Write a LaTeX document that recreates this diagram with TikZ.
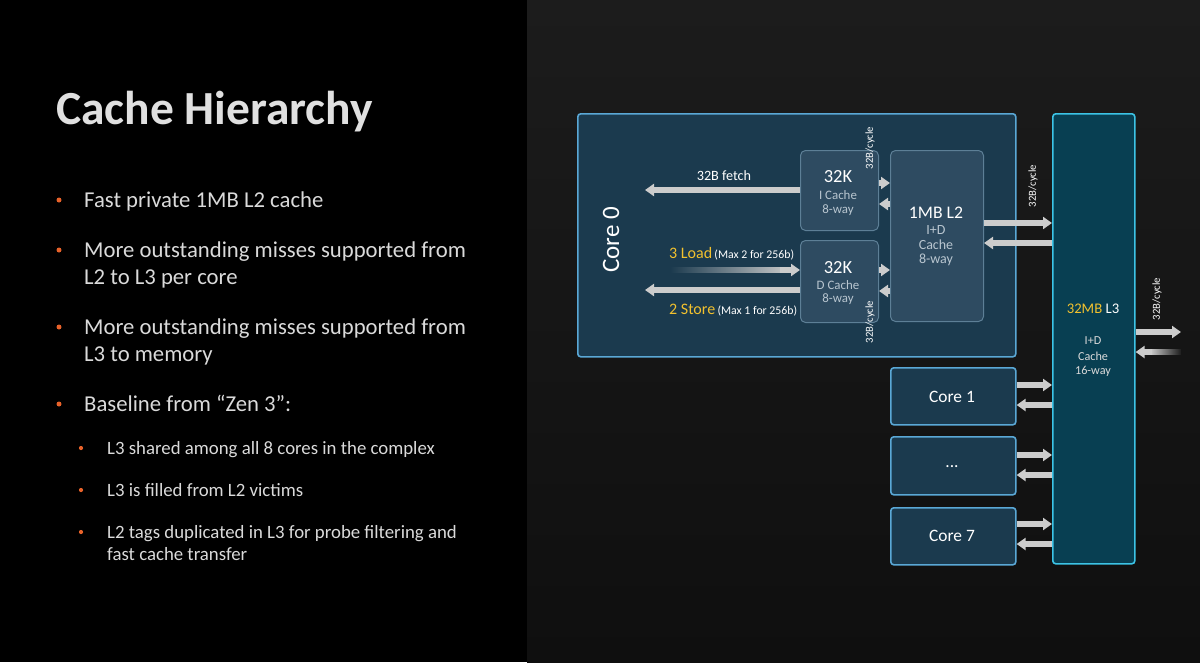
\documentclass[tikz,border=0pt]{standalone}
\usepackage{fontspec}
\setmainfont{Carlito}
\usetikzlibrary{arrows.meta,calc}
\definecolor{bgR}{HTML}{1C1C1C}
\definecolor{bgRb}{HTML}{0F0F0F}
\definecolor{coreFill}{HTML}{1B3A4E}
\definecolor{coreEdge}{HTML}{5AA8D6}
\definecolor{subFill}{HTML}{2E4B61}
\definecolor{subEdge}{HTML}{5D7F96}
\definecolor{lthreeFill}{HTML}{083F52}
\definecolor{lthreeEdge}{HTML}{3CC4E6}
\definecolor{arrGray}{HTML}{CCCCCC}
\definecolor{txtGray}{HTML}{DADADA}
\definecolor{subTxt}{HTML}{B9C6D0}
\definecolor{amdYellow}{HTML}{F2C12E}
\definecolor{bulletOr}{HTML}{E8622A}
\tikzset{
  corebox/.style={draw=coreEdge, line width=1.6pt, fill=coreFill, rounded corners=3pt, anchor=north west, inner sep=0pt},
  subbox/.style={draw=subEdge, line width=1pt, fill=subFill, rounded corners=5pt, anchor=north west, inner sep=0pt},
  lthreebox/.style={draw=lthreeEdge, line width=1.6pt, fill=lthreeFill, rounded corners=3pt, anchor=north west, inner sep=0pt},
  arr/.style={draw=arrGray, line width=5.5pt, -{Triangle[length=9pt,width=12pt]}},
  cyc/.style={text=white, font=\fontsize{10.7}{10.7}\selectfont, rotate=90, inner sep=0pt},
  bigtxt/.style={text=white, font=\fontsize{18.5}{18.5}\selectfont, inner sep=0pt},
  smtxt/.style={text=subTxt, font=\fontsize{12.9}{12.9}\selectfont, inner sep=0pt},
  l2txt/.style={text=subTxt, font=\fontsize{14}{14}\selectfont, inner sep=0pt},
  l3txt/.style={text=txtGray, font=\fontsize{12.2}{12.2}\selectfont, inner sep=0pt},
  coretxt/.style={text=white, font=\fontsize{17.4}{17.4}\selectfont, inner sep=0pt},
  bul/.style={text=txtGray, font=\fontsize{22.7}{22.7}\selectfont, anchor=base west, inner sep=0pt},
  subbul/.style={text=txtGray, font=\fontsize{18.8}{18.8}\selectfont, anchor=base west, inner sep=0pt},
  dot/.style={circle, fill=bulletOr, inner sep=0pt, minimum size=5pt},
  sdot/.style={circle, fill=bulletOr, inner sep=0pt, minimum size=4.2pt},
}
\begin{document}
\begin{tikzpicture}[x=1pt,y=-1pt]
\useasboundingbox (0,0) rectangle (1200,662);
% backgrounds
\fill[black] (0,0) rectangle (527,662);
\shade[top color=bgR, bottom color=bgRb] (527,0) rectangle (1200,662);

% title
\node[anchor=base west, inner sep=0pt, font=\fontsize{47.5}{47.5}\selectfont\bfseries, text=txtGray!85!white] (title) at (56,124) {Cache Hierarchy};

% bullets
\node[dot] (d1) at (59,200) {};
\node[bul] (b1) at (84,207) {Fast private 1MB L2 cache};
\node[dot] (d2) at (59,250) {};
\node[bul] (b2) at (84,257) {More outstanding misses supported from};
\node[bul] (b2b) at (84,284) {L2 to L3 per core};
\node[dot] (d3) at (59,327) {};
\node[bul] (b3) at (84,334) {More outstanding misses supported from};
\node[bul] (b3b) at (84,361) {L3 to memory};
\node[dot] (d4) at (59,404) {};
\node[bul] (b4) at (84,411) {Baseline from “Zen 3”:};
\node[sdot] (s1) at (81,448) {};
\node[subbul] (t1) at (107,454) {L3 shared among all 8 cores in the complex};
\node[sdot] (s2) at (81,490) {};
\node[subbul] (t2) at (107,496) {L3 is filled from L2 victims};
\node[sdot] (s3) at (81,532) {};
\node[subbul] (t3) at (107,538) {L2 tags duplicated in L3 for probe filtering and};
\node[subbul] (t3b) at (107,560) {fast cache transfer};

% boxes
\node[corebox, minimum width=438pt, minimum height=243pt] (core0) at (577,113) {};
\node[text=white, rotate=90, font=\fontsize{25}{25}\selectfont, inner sep=0pt] (core0lbl) at (611,240) {Core 0};
\node[subbox, minimum width=78pt, minimum height=80pt] (icache) at (800,150) {};
\node[subbox, minimum width=78pt, minimum height=82pt] (dcache) at (800,240) {};
\node[subbox, minimum width=93pt, minimum height=171pt] (ltwo) at (890,150) {};
\node[lthreebox, minimum width=82pt, minimum height=450pt] (lthree) at (1052,113) {};
\node[corebox, minimum width=125pt, minimum height=57pt] (core1) at (890,367) {};
\node[corebox, minimum width=125pt, minimum height=58pt] (coreX) at (890,436) {};
\node[corebox, minimum width=125pt, minimum height=57pt] (core7) at (890,507) {};

% box texts
\node[bigtxt] (ik) at (838,177) {32K};
\node[smtxt] (ic) at (838,195) {I Cache};
\node[smtxt] (iw) at (838,210) {8-way};
\node[bigtxt] (dk) at (838,268) {32K};
\node[smtxt] (dc) at (838,285) {D Cache};
\node[smtxt] (dw) at (838,299) {8-way};
\node[text=white, font=\fontsize{17.7}{17.7}\selectfont, inner sep=0pt] (l2a) at (936,213) {1MB L2};
\node[l2txt] (l2b) at (936,230) {I+D};
\node[l2txt] (l2c) at (936,245) {Cache};
\node[l2txt] (l2d) at (936,260) {8-way};
\node[text=white, font=\fontsize{14.7}{14.7}\selectfont, inner sep=0pt] (l3a) at (1093,309) {\textcolor{amdYellow}{32MB} L3};
\node[l3txt] (l3b) at (1093,341) {I+D};
\node[l3txt] (l3c) at (1093,356) {Cache};
\node[l3txt] (l3d) at (1093,371) {16-way};
\node[coretxt] (c1t) at (952,397) {Core 1};
\node[coretxt] (cxt) at (952,467) {...};
\node[coretxt] (c7t) at (952,536) {Core 7};

% labels
\node[text=white, font=\fontsize{14.2}{14.2}\selectfont, inner sep=0pt] (fetchlbl) at (724,176) {32B fetch};
\node[anchor=base west, inner sep=0pt, text=white] (loadlbl) at (669,258) {\textcolor{amdYellow}{\fontsize{16}{16}\selectfont 3 Load} {\fontsize{11.8}{11.8}\selectfont (Max 2 for 256b)}};
\node[anchor=base west, inner sep=0pt, text=white] (storelbl) at (669,314) {\textcolor{amdYellow}{\fontsize{16}{16}\selectfont 2 Store} {\fontsize{11.8}{11.8}\selectfont (Max 1 for 256b)}};
\node[cyc] (cyc1) at (870,148) {32B/cycle};
\node[cyc] (cyc2) at (870,322) {32B/cycle};
\node[cyc] (cyc3) at (1033,186) {32B/cycle};
\node[cyc] (cyc4) at (1157,299) {32B/cycle};

% coordinates for free ends
\coordinate (fetchEnd) at (645,190);
\coordinate (loadStart) at (670,270);
\coordinate (storeEnd) at (645,290);
\coordinate (outR) at (1181,332);
\coordinate (outL) at (1181,352);

% arrows inside core 0
\draw[arr] (icache.west |- 0,190) -- (fetchEnd);
\shade[left color=coreFill, right color=arrGray] (loadStart) ++(0,-2.75) rectangle (791,272.75);
\draw[arr] (780,270) -- (dcache.west |- 0,270);
\draw[arr] (dcache.west |- 0,290) -- (storeEnd);
\draw[arr] (icache.east |- 0,183) -- (ltwo.west |- 0,183);
\draw[arr] (ltwo.west |- 0,204) -- (icache.east |- 0,204);
\draw[arr] (dcache.east |- 0,270) -- (ltwo.west |- 0,270);
\draw[arr] (ltwo.west |- 0,291) -- (dcache.east |- 0,291);
% L2 <-> L3
\draw[arr] (ltwo.east |- 0,223) -- (lthree.west |- 0,223);
\draw[arr] (lthree.west |- 0,243) -- (ltwo.east |- 0,243);
% L3 <-> outside
\draw[arr] (lthree.east |- 0,332) -- (outR);
\shade[left color=arrGray, right color=bgR] (1150,349.25) rectangle (outL |- 0,354.75);
\draw[arr] (1152,352) -- (lthree.east |- 0,352);
% cores <-> L3
\draw[arr] (core1.east |- 0,385) -- (lthree.west |- 0,385);
\draw[arr] (lthree.west |- 0,405) -- (core1.east |- 0,405);
\draw[arr] (coreX.east |- 0,455) -- (lthree.west |- 0,455);
\draw[arr] (lthree.west |- 0,475) -- (coreX.east |- 0,475);
\draw[arr] (core7.east |- 0,524) -- (lthree.west |- 0,524);
\draw[arr] (lthree.west |- 0,544) -- (core7.east |- 0,544);
\end{tikzpicture}
\end{document}
